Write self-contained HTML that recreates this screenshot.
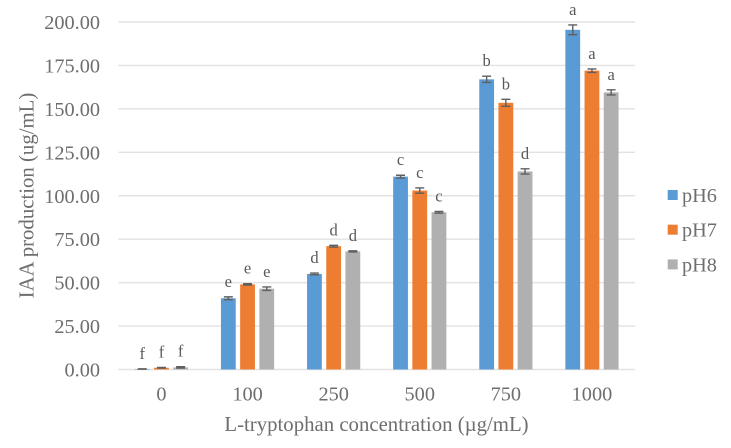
<!DOCTYPE html>
<html lang="en">
<head>
<meta charset="utf-8">
<title>IAA production chart</title>
<style>
html,body{margin:0;padding:0;background:#fff;}
body{width:731px;height:448px;overflow:hidden;}
svg{display:block;font-family:"Liberation Serif","Times New Roman",serif;filter:blur(0.35px);}
text{fill:#6e6e6e;}
</style>
</head>
<body>
<svg id="chart" xmlns="http://www.w3.org/2000/svg" width="731" height="448" viewBox="0 0 731 448"></svg>
<script>
const categories = ['0', '100', '250', '500', '750', '1000'];
const yTicks = [0, 25, 50, 75, 100, 125, 150, 175, 200];
const seriesNames = ['pH6', 'pH7', 'pH8'];
const seriesColors = ['#5b9bd5', '#ed7d31', '#b0b0b0'];
const ph6Values = [0.3, 41, 55, 111, 167, 195.5];
const ph7Values = [1, 49, 71, 103, 153.5, 172];
const ph8Values = [1.2, 46.5, 68, 90.5, 114, 159.5];
const ph6Errors = [0.1, 0.8, 0.5, 0.8, 1.8, 2.8];
const ph7Errors = [0.2, 0.4, 0.5, 1.5, 2, 1];
const ph8Errors = [0.4, 1, 0.3, 0.5, 1.5, 1.5];
const ph6Letters = ['f', 'e', 'd', 'c', 'b', 'a'];
const ph7Letters = ['f', 'e', 'd', 'c', 'b', 'a'];
const ph8Letters = ['f', 'e', 'd', 'c', 'd', 'a'];

const allValues = [ph6Values, ph7Values, ph8Values];
const allErrors = [ph6Errors, ph7Errors, ph8Errors];
const allLetters = [ph6Letters, ph7Letters, ph8Letters];

const svg = document.getElementById('chart');
const NS = 'http://www.w3.org/2000/svg';
const plotLeft = 118.4, plotRight = 635, plotBottom = 369.5, pxPerUnit = 1.7375;
const step = (plotRight - plotLeft) / categories.length;
const barW = 14.8, barGap = 19.2;

function yScale(v) { return plotBottom - v * pxPerUnit; }
function xScale(c, s) { return plotLeft + step * (c + 0.5) + (s - 1) * barGap; }
function mk(tag, attrs, txt) {
  const el = document.createElementNS(NS, tag);
  for (const k in attrs) el.setAttribute(k, attrs[k]);
  if (txt !== undefined) el.textContent = txt;
  svg.appendChild(el);
  return el;
}

yTicks.forEach(function (t) {
  const line = mk('line', {x1: plotLeft, x2: plotRight, y1: yScale(t), y2: yScale(t), stroke: '#e2e2e2', 'stroke-width': 1.4});
  
  
  const lab = mk('text', {x: 100, y: yScale(t) + 7, 'text-anchor': 'end', 'font-size': 20.3}, t.toFixed(2));
  
  
});

categories.forEach(function (cat, c) {
  const lab = mk('text', {x: xScale(c, 1), y: 400.7, 'text-anchor': 'middle', 'font-size': 20.3}, cat);
  
  
  seriesNames.forEach(function (name, s) {
    const v = allValues[s][c], e = allErrors[s][c], cx = xScale(c, s);
    const bar = mk('rect', {x: cx - barW / 2, y: yScale(v), width: barW, height: plotBottom - yScale(v), fill: seriesColors[s]});
    
    
    const d = 'M' + (cx - 4.5) + ' ' + yScale(v + e) + 'H' + (cx + 4.5) + 'M' + cx + ' ' + yScale(v + e) + 'V' + yScale(v - e) + 'M' + (cx - 4.5) + ' ' + yScale(v - e) + 'H' + (cx + 4.5);
    const err = mk('path', {d: d, stroke: '#5f5f5f', 'stroke-width': 1.4, fill: 'none'});
    
    
    const letter = mk('text', {x: cx, y: yScale(v + e) - 10, 'text-anchor': 'middle', 'font-size': 16.5, style: 'fill:#595959'}, allLetters[s][c]);
    
    
  });
});

const yTitle = mk('text', {x: 0, y: 0, transform: 'translate(33.5 195.5) rotate(-90)', 'text-anchor': 'middle', 'font-size': 20.8}, 'IAA production (ug/mL)');



const xTitle = mk('text', {x: 376.5, y: 431, 'text-anchor': 'middle', 'font-size': 20.8}, 'L-tryptophan concentration (\u00b5g/mL)');



seriesNames.forEach(function (name, s) {
  const swatch = mk('rect', {x: 667.7, y: 190 + s * 34.7, width: 10, height: 10, fill: seriesColors[s]});
  
  
  const lab = mk('text', {x: 682, y: 202 + s * 34.7, 'font-size': 20.3}, name);
  
  
});
</script>
</body>
</html>
